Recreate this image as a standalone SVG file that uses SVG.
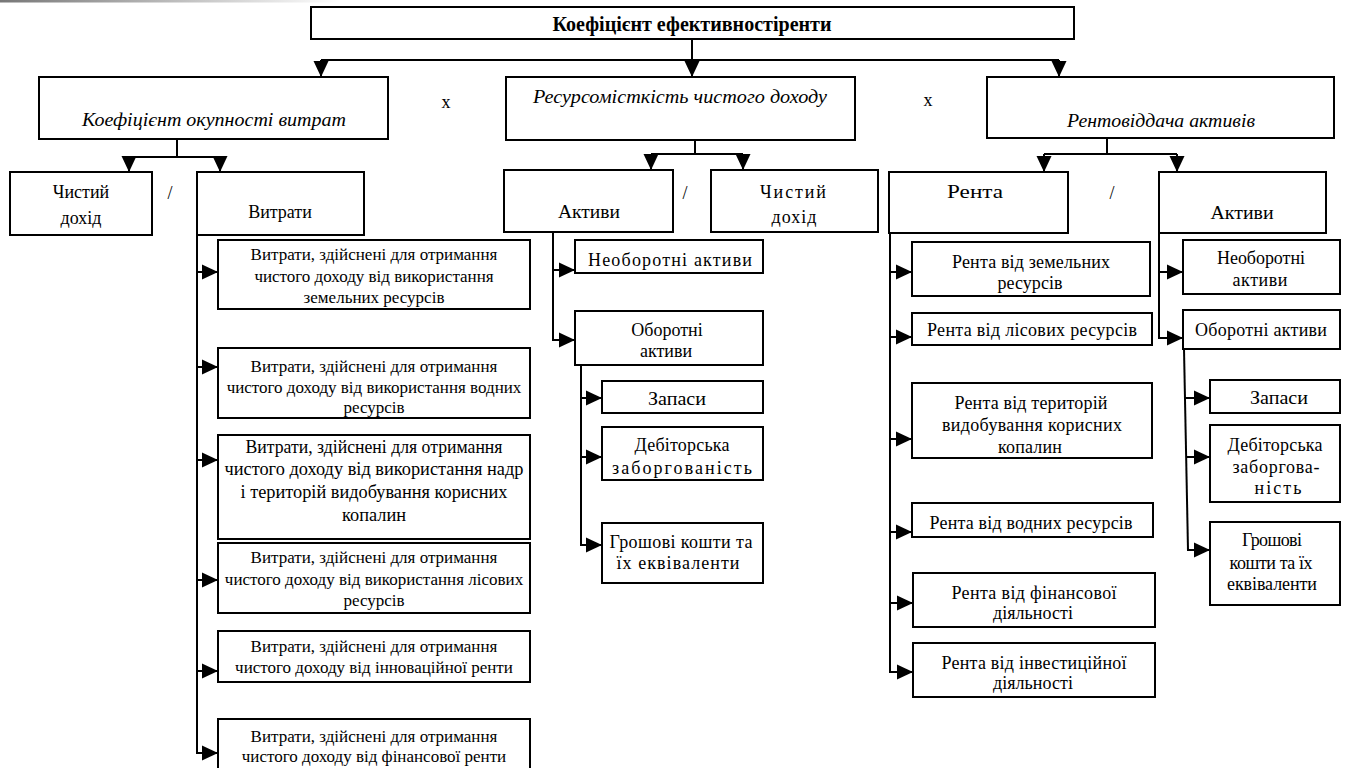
<svg xmlns="http://www.w3.org/2000/svg" width="1345" height="768" viewBox="0 0 1345 768" font-family="'Liberation Serif', 'Times New Roman', serif">
<defs>
<marker id="ah" markerUnits="userSpaceOnUse" markerWidth="16" markerHeight="16" refX="16" refY="8" orient="auto">
<path d="M0,0.5 L16,8 L0,15.5 z" fill="#000"/>
</marker>
<linearGradient id="fade" x1="0" x2="1" y1="0" y2="0">
<stop offset="0" stop-color="#777"/>
<stop offset="1" stop-color="#777" stop-opacity="0"/>
</linearGradient>
</defs>
<style>
rect{fill:#fff;stroke:#000;stroke-width:2}
text{fill:#000;text-anchor:middle}
.b{font-weight:bold;font-size:20px}
.i{font-style:italic;font-size:19px}
.m{font-size:18px}
.s{font-size:17px}
.l{font-size:19px}
.c line,.c path{stroke:#000;stroke-width:2;fill:none}
.a{marker-end:url(#ah)}
</style>
<rect x="0" y="0" width="340" height="2.5" style="fill:url(#fade);stroke:none"/>

<g id="top"><rect x="311" y="7" width="763" height="32"/><text class="b" x="692" y="31" textLength="279" lengthAdjust="spacingAndGlyphs">Коефіцієнт ефективностіренти</text></g>

<g id="k1"><rect x="39" y="77" width="349" height="62"/><text class="i" x="214" y="126" textLength="264" lengthAdjust="spacingAndGlyphs">Коефіцієнт окупності витрат</text></g>
<g id="x1"><text class="m" x="446" y="108">х</text></g>
<g id="k2"><rect x="506" y="77" width="349" height="63"/><text class="i" x="680" y="103" textLength="294" lengthAdjust="spacingAndGlyphs">Ресурсомісткість чистого доходу</text></g>
<g id="x2"><text class="m" x="928" y="106">х</text></g>
<g id="k3"><rect x="987" y="77" width="347" height="61"/><text class="i" x="1161" y="127" textLength="188" lengthAdjust="spacingAndGlyphs">Рентовіддача активів</text></g>

<g id="n1"><rect x="10" y="172" width="142" height="63"/><text class="m" x="81" y="198">Чистий</text><text class="m" x="81" y="224">дохід</text></g>
<g id="d1"><text class="m" x="170" y="199">/</text></g>
<g id="n2"><rect x="197" y="172" width="167" height="63"/><text class="m" x="280" y="218">Витрати</text></g>

<g id="n3"><rect x="504" y="170" width="169" height="62"/><text class="m" x="589" y="218" textLength="62" lengthAdjust="spacingAndGlyphs">Активи</text></g>
<g id="d2"><text class="m" x="685" y="199">/</text></g>
<g id="n4"><rect x="711" y="170" width="167" height="62"/><text class="m" x="793" y="198" textLength="66" lengthAdjust="spacing">Чистий</text><text class="m" x="794" y="223" textLength="45" lengthAdjust="spacing">дохід</text></g>

<g id="n5"><rect x="889" y="172" width="179" height="61"/><text class="m" x="975" y="198" textLength="56" lengthAdjust="spacingAndGlyphs">Рента</text></g>
<g id="d3"><text class="m" x="1112" y="199">/</text></g>
<g id="n6"><rect x="1159" y="172" width="167" height="61"/><text class="m" x="1242" y="219" textLength="63" lengthAdjust="spacingAndGlyphs">Активи</text></g>

<g id="v1"><rect x="218" y="240" width="312" height="69"/><text class="s" x="374" y="260">Витрати, здійснені для отримання</text><text class="s" x="374" y="282">чистого доходу від використання</text><text class="s" x="374" y="303">земельних ресурсів</text></g>
<g id="v2"><rect x="218" y="348" width="312" height="70"/><text class="s" x="374" y="372">Витрати, здійснені для отримання</text><text class="s" x="374" y="393">чистого доходу від використання водних</text><text class="s" x="374" y="413">ресурсів</text></g>
<g id="v3"><rect x="218" y="435" width="312" height="104"/><text class="l" x="374" y="453" textLength="257" lengthAdjust="spacingAndGlyphs">Витрати, здійснені для отримання</text><text class="l" x="374" y="475" textLength="299" lengthAdjust="spacingAndGlyphs">чистого доходу від використання надр</text><text class="l" x="374" y="498" textLength="267" lengthAdjust="spacingAndGlyphs">і територій видобування корисних</text><text class="l" x="374" y="521" textLength="64" lengthAdjust="spacingAndGlyphs">копалин</text></g>
<g id="v4"><rect x="218" y="543" width="312" height="70"/><text class="s" x="374" y="563">Витрати, здійснені для отримання</text><text class="s" x="374" y="585">чистого доходу від використання лісових</text><text class="s" x="374" y="606">ресурсів</text></g>
<g id="v5"><rect x="218" y="631" width="312" height="51"/><text class="s" x="374" y="652">Витрати, здійснені для отримання</text><text class="s" x="374" y="673">чистого доходу від інноваційної ренти</text></g>
<g id="v6"><rect x="218" y="719" width="312" height="52"/><text class="s" x="374" y="742">Витрати, здійснені для отримання</text><text class="s" x="374" y="762">чистого доходу від фінансової ренти</text></g>

<g id="a1"><rect x="575" y="240" width="188" height="33"/><text class="m" x="670" y="266" textLength="164" lengthAdjust="spacing">Необоротні активи</text></g>
<g id="a2"><rect x="575" y="311" width="188" height="54"/><text class="m" x="667" y="336">Оборотні</text><text class="m" x="666" y="357">активи</text></g>
<g id="a3"><rect x="602" y="381" width="161" height="32"/><text class="m" x="677" y="405" textLength="58" lengthAdjust="spacingAndGlyphs">Запаси</text></g>
<g id="a4"><rect x="602" y="427" width="161" height="53"/><text class="m" x="682" y="451" textLength="95" lengthAdjust="spacing">Дебіторська</text><text class="m" x="682" y="474" textLength="140" lengthAdjust="spacing">заборгованість</text></g>
<g id="a5"><rect x="602" y="523" width="161" height="60"/><text class="m" x="681" y="548" textLength="143" lengthAdjust="spacing">Грошові кошти та</text><text class="m" x="678" y="569" textLength="123" lengthAdjust="spacing">їх еквіваленти</text></g>

<g id="r1"><rect x="912" y="242" width="238" height="54"/><text class="m" x="1031" y="268" textLength="158" lengthAdjust="spacing">Рента від земельних</text><text class="m" x="1030" y="289" textLength="65" lengthAdjust="spacing">ресурсів</text></g>
<g id="r2"><rect x="912" y="313" width="240" height="32"/><text class="m" x="1032" y="336" textLength="210" lengthAdjust="spacing">Рента від лісових ресурсів</text></g>
<g id="r3"><rect x="912" y="383" width="240" height="75"/><text class="m" x="1031" y="409" textLength="153" lengthAdjust="spacing">Рента від територій</text><text class="m" x="1032" y="431" textLength="180" lengthAdjust="spacing">видобування корисних</text><text class="m" x="1030" y="453" textLength="64" lengthAdjust="spacing">копалин</text></g>
<g id="r4"><rect x="912" y="503" width="241" height="34"/><text class="m" x="1031" y="529" textLength="203" lengthAdjust="spacing">Рента від водних ресурсів</text></g>
<g id="r5"><rect x="913" y="573" width="242" height="54"/><text class="m" x="1034" y="599" textLength="165" lengthAdjust="spacing">Рента від фінансової</text><text class="m" x="1033" y="619" textLength="80" lengthAdjust="spacing">діяльності</text></g>
<g id="r6"><rect x="913" y="643" width="242" height="54"/><text class="m" x="1034" y="669" textLength="185" lengthAdjust="spacing">Рента від інвестиційної</text><text class="m" x="1033" y="689" textLength="80" lengthAdjust="spacing">діяльності</text></g>

<g id="p1"><rect x="1183" y="240" width="157" height="54"/><text class="m" x="1261" y="264" textLength="88" lengthAdjust="spacing">Необоротні</text><text class="m" x="1260" y="286" textLength="55" lengthAdjust="spacing">активи</text></g>
<g id="p2"><rect x="1183" y="310" width="157" height="39"/><text class="m" x="1261" y="336" textLength="132" lengthAdjust="spacing">Оборотні активи</text></g>
<g id="p3"><rect x="1210" y="380" width="130" height="33"/><text class="m" x="1279" y="404" textLength="58" lengthAdjust="spacingAndGlyphs">Запаси</text></g>
<g id="p4"><rect x="1210" y="425" width="130" height="77"/><text class="m" x="1275" y="451" textLength="95" lengthAdjust="spacing">Дебіторська</text><text class="m" x="1276" y="473" textLength="87" lengthAdjust="spacing">заборгова-</text><text class="m" x="1278" y="494" textLength="47" lengthAdjust="spacing">ність</text></g>
<g id="p5"><rect x="1210" y="522" width="130" height="83"/><text class="m" x="1272" y="546" textLength="60" lengthAdjust="spacing">Грошові</text><text class="m" x="1271" y="569" textLength="83" lengthAdjust="spacing">кошти та їх</text><text class="m" x="1272" y="590" textLength="90" lengthAdjust="spacing">еквіваленти</text></g>

<g id="connectors" class="c">
<line x1="692" y1="39" x2="692" y2="77" class="a"/>
<line x1="321" y1="60" x2="1059" y2="60"/>
<line x1="321" y1="60" x2="321" y2="77" class="a"/>
<line x1="1059" y1="60" x2="1059" y2="77" class="a"/>

<line x1="177" y1="139" x2="177" y2="157"/>
<line x1="129" y1="157" x2="220" y2="157"/>
<line x1="129" y1="157" x2="129" y2="172" class="a"/>
<line x1="220" y1="157" x2="220" y2="172" class="a"/>

<line x1="695" y1="140" x2="695" y2="154"/>
<line x1="651" y1="154" x2="743" y2="154"/>
<line x1="651" y1="154" x2="651" y2="170" class="a"/>
<line x1="743" y1="154" x2="743" y2="170" class="a"/>

<line x1="1107" y1="138" x2="1107" y2="154"/>
<line x1="1044" y1="154" x2="1177" y2="154"/>
<line x1="1044" y1="154" x2="1044" y2="172" class="a"/>
<line x1="1177" y1="154" x2="1177" y2="172" class="a"/>

<path d="M197,235 V753"/>
<line x1="196" y1="272" x2="218" y2="272" class="a"/>
<line x1="196" y1="367" x2="218" y2="367" class="a"/>
<line x1="196" y1="460" x2="218" y2="460" class="a"/>
<line x1="196" y1="580" x2="218" y2="580" class="a"/>
<line x1="196" y1="671" x2="218" y2="671" class="a"/>
<line x1="196" y1="753" x2="218" y2="753" class="a"/>

<path d="M553,232 V340"/>
<line x1="552" y1="270" x2="575" y2="270" class="a"/>
<line x1="552" y1="340" x2="575" y2="340" class="a"/>
<path d="M581,365 V545"/>
<line x1="580" y1="398" x2="602" y2="398" class="a"/>
<line x1="580" y1="457" x2="602" y2="457" class="a"/>
<line x1="580" y1="545" x2="602" y2="545" class="a"/>

<path d="M890,233 V672"/>
<line x1="889" y1="272" x2="912" y2="272" class="a"/>
<line x1="889" y1="337" x2="912" y2="337" class="a"/>
<line x1="889" y1="439" x2="912" y2="439" class="a"/>
<line x1="889" y1="532" x2="912" y2="532" class="a"/>
<line x1="889" y1="603" x2="913" y2="603" class="a"/>
<line x1="889" y1="672" x2="913" y2="672" class="a"/>

<path d="M1159,233 V338"/>
<line x1="1158" y1="272" x2="1183" y2="272" class="a"/>
<line x1="1158" y1="338" x2="1183" y2="338" class="a"/>
<path d="M1184,349 L1188,550"/>
<line x1="1185" y1="398" x2="1210" y2="398" class="a"/>
<line x1="1186" y1="457" x2="1210" y2="457" class="a"/>
<line x1="1187" y1="550" x2="1210" y2="550" class="a"/>
</g>
</svg>
